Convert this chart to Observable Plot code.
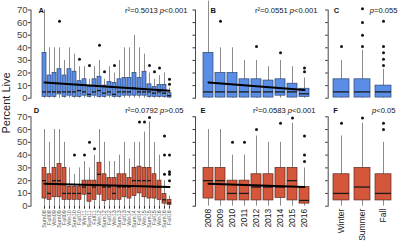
<!DOCTYPE html>
<html><head><meta charset="utf-8">
<script src="https://cdn.jsdelivr.net/npm/d3@7"></script>
<script src="https://cdn.jsdelivr.net/npm/@observablehq/plot@0.6"></script>
<style>
html,body{margin:0;padding:0;background:#fff;}
#fig{position:relative;width:400px;height:245px;overflow:hidden;font-family:"Liberation Sans",Arial,sans-serif;}
#fig svg{position:absolute;overflow:visible;}
#ytitle{position:absolute;left:6px;top:103px;transform:translate(-50%,-50%) rotate(-90deg);font-size:11px;white-space:nowrap;color:#222;}
</style></head><body><div id="fig"><div id="ytitle">Percent Live</div></div>
<script>
// ---------- categories ----------
const seasonCats = ["Sum08","Fall08","Win09","Sum09","Fall09","Win10","Sum10","Fall10","Win11","Sum11","Fall11","Win12","Sum12","Fall12","Win13","Sum13","Fall13","Win14","Sum14","Fall14","Win15","Sum15","Fall15","Win16","Sum16","Fall16"];
const yearCats = ["2008","2009","2010","2011","2012","2013","2014","2015","2016"];
const seasonNames = ["Winter","Summer","Fall"];
const yTicks = [0,10,20,30,40,50,60,70];

// ---------- Panel A (blue, by season) ----------
const loA  = [0,0,0,0,0,0,0,0,0,0,0,0,0,0,0,0,0,0,0,0,0,0,0,0,0,0];
const q1A  = [1,1,1,3,1,2,1,1,2,1,2,1,1,2,1,1,2,2,2,2,2,1,1,1,1,0.5];
const medA = [5,5,5,5,5,5,5,6,5,3,5,6,4,5,3,5,5,5,8,5,5,5,4,5,4,2];
const q3A  = [36,18,20,23,18,23,21,13.5,15,9,15,17,10,13,12,15,16,16,20,16,21,11,9,10.5,10.5,4];
const hiA  = [70,40,40,40,30,40,35,25,25,15,25,30,15,25,20,30,40,40,50,40,35,20,15,18,20,8];
const outA = [[],[],[],[61],[],[],[],[31],[],[26],[],[42],[21],[],[26],[],[],[],[],[],[],[26],[21],[24],[],[11,15]];
const trendA = [12.5, 6];
const statA = "r²=0.5013 p<0.001";

// ---------- Panel B (blue, by year) ----------
const loB  = [0,0,0,0,0,0,0,0,0];
const q1B  = [0.5,0.5,0.5,0.5,0.5,0.5,2,0.5,1];
const medB = [5,5,5,5,5,5,5,5,3.5];
const q3B  = [36,20,20,15,15,14,15,11.5,7.5];
const hiB  = [77,40,40,30,30,25,30,25,16];
const outB = [[],[61],[],[],[41],[],[36],[],[21,24]];
const trendB = [12.5, 6.5];
const statB = "r²=0.0551 p<0.001";

// ---------- Panel C (blue, by season name) ----------
const loC  = [0,0,0];
const q1C  = [0.5,0.5,0.5];
const medC = [5,5,5];
const q3C  = [15,15,10];
const hiC  = [30,38,23];
const outC = [[41],[41,50,60,71],[26,31,36,41,61]];
const statC = "p=0.055";

// ---------- Panel D (red, by season) ----------
const loD  = [0,0,0,0,0,0,0,0,0,0,0,0,0,0,0,0,0,0,0,0,0,0,0,0,0,0];
const q1D  = [6,5,7,7,5,5,5,5,9,3.5,5,9,4,5,5,5,7,6,8,10,7,6,6,5,2,1];
const medD = [20,10,20,20,10,10,10,10,15,10,15,25,15,15,10,15,15,15,20,20,20,20,15,15,5,2.5];
const q3D  = [30,25,30,33,30,15,15,15,20,20,20,34,25,22,22,25,25,22,30,31,30,30,25,20,9.5,5];
const hiD  = [60,50,60,60,50,30,25,30,35,30,40,60,50,35,35,40,50,37,50,50,58,66,50,40,20,8];
const outD = [[],[],[],[],[],[],[40],[],[40],[50],[45],[],[],[],[],[],[],[],[],[66],[66],[69.5],[],[],[25,40,55],[20,25,27,40]];
const trendD = [17.5, 15];
const statD = "r²=0.0792 p>0.05";

// ---------- Panel E (red, by year) ----------
const loE  = [0,0,0,0,0,0,0,0,0];
const q1E  = [6,4.5,4.5,4.5,4.5,4.5,6.5,4.5,2];
const medE = [20,20,10,10,15,15,15,20,4.5];
const q3E  = [30,30,20,20,25,25,30,30,15];
const hiE  = [60,60,40,40,55,50,50,65,30];
const outE = [[],[],[50],[50],[60],[],[65],[69],[35,40,55]];
const trendE = [17.5, 15];
const statE = "r²=0.0583 p<0.001";

// ---------- Panel F (red, by season name) ----------
const loF  = [0,0,0];
const q1F  = [4.5,4.5,4.5];
const medF = [10,15,10];
const q3F  = [25,30,25];
const hiF  = [55,65,50];
const outF = [[65],[69],[60,65]];
const statF = "p<0.05";

const BLUE = {fill:"#5a8ee6", stroke:"#2d4470"};
const RED  = {fill:"#d4573b", stroke:"#5c2a1e"};
const FONT = "'Liberation Sans',Arial,sans-serif";

function panel(o) {
  const rows = o.cats.map((c,i)=>({c, lo:o.lo[i], q1:o.q1[i], med:o.med[i], q3:o.q3[i], hi:o.hi[i]}));
  const outs = o.cats.flatMap((c,i)=>o.out[i].map(v=>({c,v})));
  const marks = [
    Plot.frame({anchor:"left", stroke:"#333", strokeWidth:0.9}),
    Plot.axisY({ticks: yTicks, tickSize: 2.5, tickPadding: 1, fontSize: 9.5,
      tickFormat: o.yLabels ? (d=>String(d)) : (()=> ""), label: null, stroke:"#333", color:"#444"}),
    Plot.ruleX(rows, {x:"c", y1:"lo", y2:"hi", stroke:"#8c8c8c", strokeWidth:1}),
    Plot.barY(rows, {x:"c", y1:"q1", y2:"q3", fill:o.col.fill, stroke:o.col.stroke, strokeWidth:0.7}),
    Plot.tickY(rows, {x:"c", y:"med", stroke:"#1a1a1a", strokeWidth:1.3}),
    Plot.dot(outs, {x:"c", y:"v", r:1.5, fill:"#111", stroke:null}),
    Plot.text([o.letter], {frameAnchor:"top-left", dx:o.ldx, dy:o.tdy, fontWeight:"bold", fontSize:7.5, lineAnchor:"bottom", fill:"#111"}),
    Plot.text([o.stat], {frameAnchor:"top-right", dx:o.sdx, dy:o.tdy, fontSize:7.6, lineAnchor:"bottom", textAnchor:"end", fill:"#111"})
  ];
  if (o.trend) {
    const trend = [{c:o.cats[0], v:o.trend[0]},{c:o.cats[o.cats.length-1], v:o.trend[1]}];
    marks.push(Plot.line(trend, {x:"c", y:"v", stroke:"#000", strokeWidth:2}));
  }
  if (o.xAxis) marks.push(o.xAxis);
  const xOpt = {type:"band", domain:o.cats, paddingInner:o.pad, paddingOuter:o.pad/2};
  if (o.xRange) xOpt.range = o.xRange;
  if (!o.xAxis) xOpt.axis = null;
  const svg = Plot.plot({
    width:o.width, height:o.height,
    marginLeft:o.ml, marginRight:o.mr, marginTop:o.mt, marginBottom:o.mb,
    style:`background:transparent;overflow:visible;font-family:${FONT};`,
    x: xOpt,
    y: {domain:[0,70]},
    marks
  });
  svg.style.left = o.left + "px";
  svg.style.top = o.top + "px";
  svg.style.position = "absolute";
  // italic p in the statistics text
  svg.querySelectorAll("text").forEach(t => {
    if (t.textContent === o.stat) {
      const i = o.stat.indexOf("p");
      const esc = s => s.replace(/&/g,"&amp;").replace(/</g,"&lt;").replace(/>/g,"&gt;");
      t.innerHTML = esc(o.stat.slice(0,i)) + '<tspan font-style="italic">p</tspan>' + esc(o.stat.slice(i+1));
    }
  });
  document.getElementById("fig").appendChild(svg);
}

const topRow = {top:0, height:105, mt:9.5, mb:7.3, tdy:2.8};
const botRow = {top:105, height:140, mt:11.3, mb:39.3, tdy:-3.6};
const col1 = {left:0, width:193, ml:30.5, mr:10, pad:0.15, yLabels:true};
const col2 = {left:193, width:130, ml:2, mr:10, pad:0.16, xRange:[6,120]};
const col3 = {left:323, width:77, ml:4.7, mr:5.7, pad:0.22, xRange:[7.3,71.3]};

panel({...topRow, ...col1, col:BLUE, cats:seasonCats, lo:loA, q1:q1A, med:medA, q3:q3A, hi:hiA, out:outA, trend:trendA, letter:"A", ldx:7.5, stat:statA, sdx:4});
panel({...topRow, ...col2, col:BLUE, cats:yearCats, lo:loB, q1:q1B, med:medB, q3:q3B, hi:hiB, out:outB, trend:trendB, letter:"B", ldx:15, stat:statB, sdx:4});
panel({...topRow, ...col3, col:BLUE, cats:seasonNames, lo:loC, q1:q1C, med:medC, q3:q3C, hi:hiC, out:outC, letter:"C", ldx:5.6, stat:statC, sdx:2.7});

panel({...botRow, ...col1, col:RED, cats:seasonCats, lo:loD, q1:q1D, med:medD, q3:q3D, hi:hiD, out:outD, trend:trendD, letter:"D", ldx:2.8, stat:statD, sdx:0,
  xAxis: Plot.axisX({tickRotate:-90, tickSize:3, tickPadding:1, fontSize:5.5, label:null, stroke:"#333", color:"#555"})});
panel({...botRow, ...col2, col:RED, cats:yearCats, lo:loE, q1:q1E, med:medE, q3:q3E, hi:hiE, out:outE, trend:trendE, letter:"E", ldx:5, stat:statE, sdx:2,
  xAxis: Plot.axisX({tickRotate:-90, tickSize:0, tickPadding:2.5, fontSize:8.5, label:null, color:"#222"})});
panel({...botRow, ...col3, col:RED, cats:seasonNames, lo:loF, q1:q1F, med:medF, q3:q3F, hi:hiF, out:outF, letter:"F", ldx:5, stat:statF, sdx:0.7,
  xAxis: Plot.axisX({tickRotate:-90, tickSize:0, tickPadding:2.5, fontSize:8.5, label:null, color:"#222"})});
</script></body></html>
